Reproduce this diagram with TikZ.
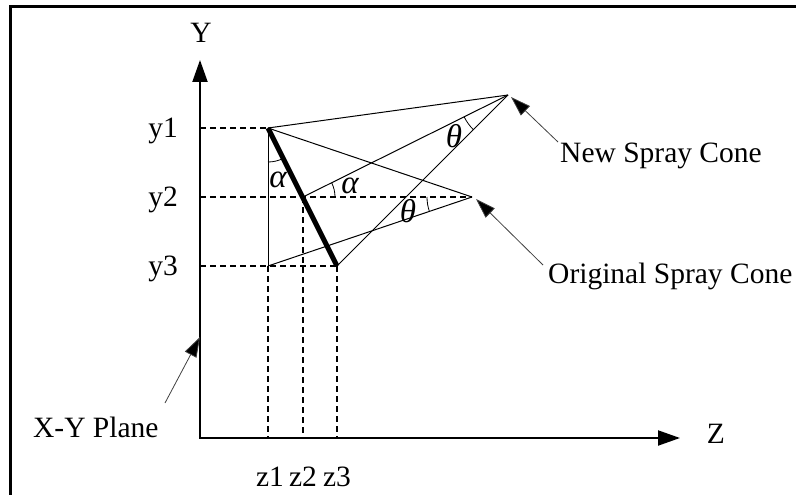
\documentclass[tikz,border=0pt]{standalone}
\usepackage{fontspec}
\setmainfont{Liberation Serif}
\usetikzlibrary{arrows.meta,angles}
\begin{document}
\begin{tikzpicture}[x=1pt,y=-1pt,
  lbl/.style={inner sep=0pt, font=\fontsize{29.5}{34}\selectfont},
  grk/.style={inner sep=0pt, font=\fontsize{33}{38}\selectfont\itshape},
  axisline/.style={line width=2pt, {Triangle[length=22pt,width=15pt]}-{Triangle[length=22pt,width=15pt]}},
  thinline/.style={line width=1pt},
  guide/.style={line width=1.1pt, dash pattern=on 6pt off 4pt},
  nozzle/.style={line width=5pt},
  callout/.style={line width=0.8pt, draw=black!75, -{Triangle[length=20pt,width=13pt,fill=black]}},
  ang/.style={draw, line width=0.8pt}]
\useasboundingbox (0,0) rectangle (796,495);
\draw[line width=3pt] (10,495) -- (10,7) -- (796,7);

% points
\coordinate (O0) at (200,438);
\coordinate (Ytip) at (200,60);
\coordinate (Ztip) at (680,438);
\coordinate (A) at (268,128);
\coordinate (M) at (303,197);
\coordinate (B) at (337,266);
\coordinate (C) at (268,266);
\coordinate (P) at (472,197);
\coordinate (N) at (508,95);
\coordinate (Y1) at (200,128);
\coordinate (Y2) at (200,197);
\coordinate (Y3) at (200,266);
\coordinate (Z1) at (268,438);
\coordinate (Z2) at (303,438);
\coordinate (Z3) at (337,438);

% axes
\draw[axisline] (Ytip) -- (O0) -- (Ztip);

% guides
\draw[guide] (Y1) -- (A);
\draw[guide] (Y2) -- (P);
\draw[guide] (Y3) -- (B);
\draw[guide] (C) -- (Z1);
\draw[guide] (M) -- (Z2);
\draw[guide] (B) -- (Z3);

% cones
\draw[thinline] (A) -- (C);
\draw[thinline] (A) -- (P);
\draw[thinline] (C) -- (P);
\draw[thinline] (A) -- (N);
\draw[thinline] (M) -- (N);
\draw[thinline] (B) -- (N);
\draw[nozzle] (A) -- (B);

% angles
\pic[ang, angle radius=34pt] {angle=C--A--B};
\pic[ang, angle radius=32pt] {angle=P--M--N};
\pic[ang, angle radius=49pt] {angle=M--N--B};
\pic[ang, angle radius=45pt] {angle=Y2--P--C};
\node[grk] (a1) at (278,180) {α};
\node[grk] (a2) at (350,186) {α};
\node[grk] (t1) at (454,136) {θ};
\node[grk] (t2) at (408,211) {θ};

% axis labels
\node[lbl, anchor=base] (ylab) at (201,43) {Y};
\node[lbl, anchor=base] (zlab) at (716,443) {Z};
\node[lbl, anchor=base east] (y1) at (178,137.5) {y1};
\node[lbl, anchor=base east] (y2) at (178,206.5) {y2};
\node[lbl, anchor=base east] (y3) at (178,275.5) {y3};
\node[lbl, anchor=base] (z1) at (270,486) {z1};
\node[lbl, anchor=base] (z2) at (303,486) {z2};
\node[lbl, anchor=base] (z3) at (337,486) {z3};

% callouts
\node[lbl, anchor=base west] (new) at (560,162) {New Spray Cone};
\node[lbl, anchor=base west] (orig) at (548,283.5) {Original Spray Cone};
\node[lbl, anchor=base west] (xy) at (33,437) {X-Y Plane};
\coordinate (newtail) at (558,142);
\coordinate (newtip) at (511,97);
\coordinate (origtail) at (543,265);
\coordinate (origtip) at (476,199);
\coordinate (xytail) at (165,403);
\coordinate (xytip) at (200,337);
\draw[callout] (newtail) -- (newtip);
\draw[callout] (origtail) -- (origtip);
\draw[callout] (xytail) -- (xytip);
\end{tikzpicture}
\end{document}
